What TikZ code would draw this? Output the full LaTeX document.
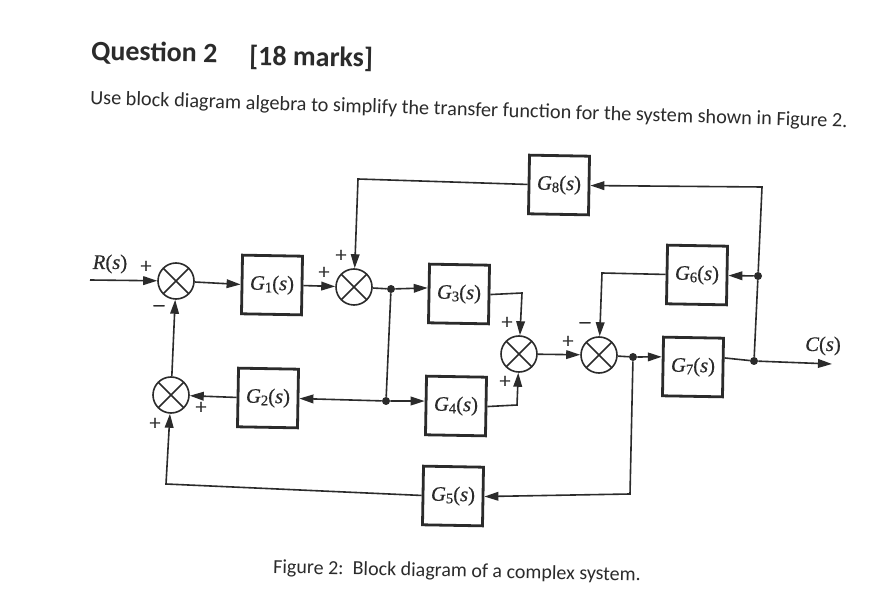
\documentclass[tikz,border=0pt]{standalone}
\usepackage[no-math]{fontspec}
\setmainfont{Carlito}
\newfontfamily\dgmfont[FakeBold=0.6]{Liberation Serif}
\usetikzlibrary{arrows.meta}
\definecolor{ink}{HTML}{2B2B2B}
\newcommand{\tfn}[2]{{\dgmfont\itshape #1\raisebox{-.25ex}{\upshape\fontsize{11}{11}\selectfont #2}\upshape(\itshape s\upshape)}}
\newcommand{\sgn}[1]{{\dgmfont #1}}
\tikzset{
  x=.75pt,y=-.75pt,
  every node/.style={text=ink},
  block/.style={draw=ink,line width=2.1pt,minimum width=45pt,minimum height=44pt,inner sep=0pt,rotate=-1,font=\fontsize{15.5}{17}\selectfont},
  sumnode/.style={circle,draw=ink,line width=1.2pt,minimum size=27pt,inner sep=0pt,
    path picture={\draw[ink,line width=1.2pt]
      (path picture bounding box.south west)--(path picture bounding box.north east)
      (path picture bounding box.north west)--(path picture bounding box.south east);}},
  junction/.style={circle,fill=ink,minimum size=6pt,inner sep=0pt},
  wire/.style={draw=ink,line width=1.2pt},
  arrow/.style={wire,-{Triangle[length=10.5pt,width=6.5pt]}},
  sign/.style={font=\fontsize{16}{16}\selectfont,inner sep=0pt},
  siglabel/.style={font=\fontsize{15.5}{17}\selectfont,inner sep=0pt},
  heading/.style={font=\bfseries\fontsize{21}{24}\selectfont,anchor=west,inner sep=0pt,rotate=-1},
  bodytext/.style={font=\fontsize{15.2}{18}\selectfont,anchor=west,inner sep=0pt,rotate=-1.75},
  captiontext/.style={font=\fontsize{15}{18}\selectfont,anchor=west,inner sep=0pt,rotate=-1.2},
}
\begin{document}
\begin{tikzpicture}
\useasboundingbox[fill=white] (0,0) rectangle (870,605);
% text
\node[heading] (q) at (91,52) {Question 2};
\node[heading] (m) at (249,57) {[18 marks]};
\node[bodytext] (u) at (90,99) {Use block diagram algebra to simplify the transfer function for the system shown in Figure 2.};
\node[captiontext] (f) at (273,568) {Figure 2:\ \ Block diagram of a complex system.};
% blocks
\node[block] (g1) at (272,285) {\tfn{G}{1}};
\node[block] (g2) at (268,398) {\tfn{G}{2}};
\node[block] (g3) at (459,294) {\tfn{G}{3}};
\node[block] (g4) at (456,406) {\tfn{G}{4}};
\node[block] (g5) at (453,496) {\tfn{G}{5}};
\node[block] (g6) at (697,275) {\tfn{G}{6}};
\node[block] (g7) at (693,367) {\tfn{G}{7}};
\node[block] (g8) at (559,185) {\tfn{G}{8}};
% summing points
\node[sumnode] (s1) at (176,281) {};
\node[sumnode] (s2) at (354,287) {};
\node[sumnode] (s3) at (519,354) {};
\node[sumnode] (s4) at (599,355) {};
\node[sumnode] (s5) at (171,395) {};
% junctions
\node[junction] (j1) at (391,289) {};
\node[junction] (j2) at (386,401) {};
\node[junction] (j3) at (633,357) {};
\node[junction] (j4) at (754,361) {};
\node[junction] (j5) at (758,276) {};
% free points
\coordinate (in) at (90,280);
\coordinate (out) at (832,364);
\coordinate (c8r) at (762,187);
\coordinate (c8l) at (358,179);
\coordinate (c3) at (522,293);
\coordinate (c4) at (517,405);
\coordinate (c6) at (602,273);
\coordinate (c5r) at (630,494);
\coordinate (c5l) at (166,484);
% connectors
\draw[arrow] (in) -- (s1);
\draw[arrow] (s1) -- (g1.west);
\draw[arrow] (g1.east) -- (s2);
\draw[wire] (s2) -- (j1);
\draw[arrow] (j1) -- (g3.170);
\draw[wire] (j1) -- (j2);
\draw[arrow] (j2) -- (g2.east);
\draw[arrow] (j2) -- (g4.172);
\draw[arrow] (g2.west) -- (s5);
\draw[arrow] (s5) -- (s1);
\draw[arrow] (g3.east) -- (c3) -- (s3);
\draw[arrow] (g4.east) -- (c4) -- (s3);
\draw[arrow] (s3) -- (s4);
\draw[wire] (s4) -- (j3);
\draw[arrow] (j3) -- (g7.163);
\draw[wire] (g7.17) -- (j4);
\draw[arrow] (j4) -- (out);
\draw[wire] (j4) -- (j5);
\draw[arrow] (j5) -- (g6.east);
\draw[arrow] (j5) -- (c8r) -- (g8.east);
\draw[arrow] (g8.west) -- (c8l) -- (s2);
\draw[arrow] (g6.west) -- (c6) -- (s4);
\draw[arrow] (j3) -- (c5r) -- (g5.east);
\draw[arrow] (g5.west) -- (c5l) -- (s5);
% labels
\node[siglabel] (lr) at (110,264) {{\dgmfont\itshape R\upshape(\itshape s\upshape)}};
\node[siglabel] (lc) at (823,346) {{\dgmfont\itshape C\upshape(\itshape s\upshape)}};
\node[sign] (p1) at (146,267) {\sgn{+}};
\node[sign] (p2) at (159,308) {\sgn{–}};
\node[sign] (p3) at (324,273) {\sgn{+}};
\node[sign] (p4) at (341,256) {\sgn{+}};
\node[sign] (p5) at (201,408) {\sgn{+}};
\node[sign] (p6) at (155,424) {\sgn{+}};
\node[sign] (p7) at (507,323) {\sgn{+}};
\node[sign] (p8) at (505,382) {\sgn{+}};
\node[sign] (p9) at (568,342) {\sgn{+}};
\node[sign] (p10) at (585,325) {\sgn{–}};
\end{tikzpicture}
\end{document}
